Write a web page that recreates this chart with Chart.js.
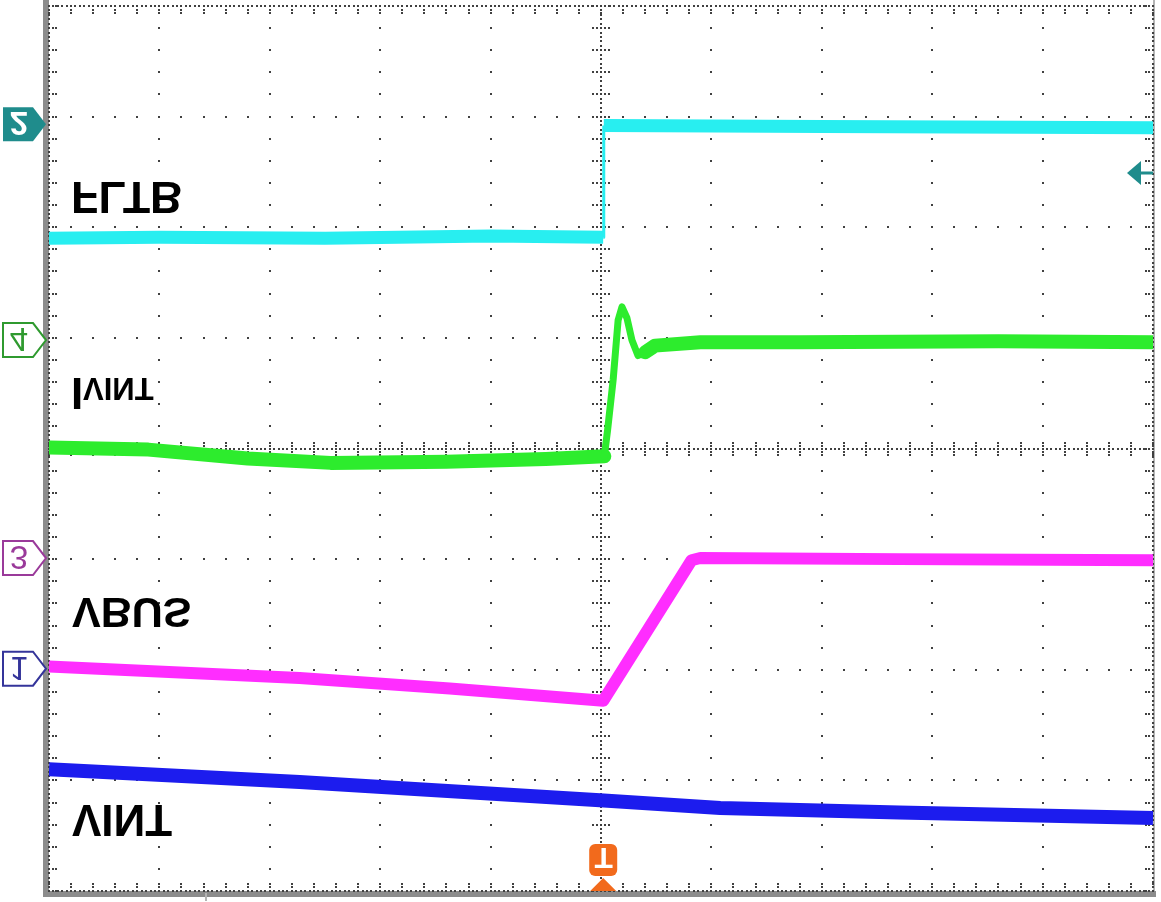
<!DOCTYPE html>
<html>
<head>
<meta charset="utf-8">
<script src="https://cdn.jsdelivr.net/npm/chart.js@4.4.1/dist/chart.umd.min.js"></script>
<style>
  html, body { margin: 0; padding: 0; background: #fff; }
  canvas { display: block; }
</style>
</head>
<body>
<canvas id="scope" width="1161" height="902"></canvas>
<script>
// values are read in screen divisions (10 x 8 graticule, 0 = centre line)
const fltbTime = [0, 1.0, 2.5, 4.0, 5.02, 5.025, 7.0, 10];
const fltbLevel = [1.90, 1.91, 1.90, 1.92, 1.91, 2.92, 2.91, 2.90];

const ivintTime = [0, 0.9, 1.8, 2.55, 3.6, 4.5, 5.03, 5.06, 5.11, 5.155, 5.19, 5.235, 5.28, 5.335, 5.4, 5.49, 5.9, 6.8, 8.6, 10];
const ivintLevel = [0.01, -0.01, -0.09, -0.13, -0.12, -0.095, -0.07, 0.17, 0.62, 1.16, 1.28, 1.18, 0.98, 0.84, 0.87, 0.93, 0.96, 0.96, 0.97, 0.96];

const vbusTime = [0, 2.27, 3.63, 5.02, 5.82, 5.9, 7.7, 10];
const vbusLevel = [-1.97, -2.075, -2.17, -2.28, -1.01, -0.99, -1.0, -1.01];

const vintTime = [0, 2.27, 4.99, 6.08, 7.7, 10];
const vintLevel = [-2.90, -3.015, -3.18, -3.25, -3.29, -3.34];

const traceNames = ["FLTB", "VBUS", "VINT"];
const channelNumbers = ["2", "4", "3", "1"];
const channelOffsets = [2.93, 0.98, -0.99, -1.99];

const toPoints = (t, v) => t.map((x, i) => ({ x: x, y: v[i] }));

// draws text mirrored top-to-bottom, baseline at yTop
function flippedText(ctx, text, x, yTop, font, color, align) {
  ctx.save();
  ctx.translate(x, yTop);
  ctx.scale(1, -1);
  ctx.font = font;
  ctx.fillStyle = color;
  ctx.textAlign = align || "left";
  ctx.textBaseline = "alphabetic";
  ctx.fillText(text, 0, 0);
  ctx.restore();
}

const graticule = {
  id: "graticule",
  beforeDatasetsDraw(chart) {
    const { ctx, chartArea: a } = chart;
    const x = chart.scales.x;
    const y = chart.scales.y;
    const px = (v) => x.getPixelForValue(v);
    const py = (v) => y.getPixelForValue(v);
    const dot = (u, w) => ctx.fillRect(Math.round(u) - 1, Math.round(w) - 1, 2, 2);

    ctx.save();
    // frame
    ctx.fillStyle = "#8c8c8c";
    ctx.fillRect(a.left - 6, 0, 6, a.bottom + 6);
    ctx.fillRect(a.left - 6, a.bottom, a.right - a.left + 9, 6);
    ctx.fillStyle = "#b4b4b4";
    ctx.fillRect(a.right, 0, 2, a.bottom);
    ctx.fillRect(205, a.bottom + 2, 2, 8);

    ctx.fillStyle = "#404040";
    for (let i = 1; i < 10; i++) {
      if (i === 5) continue;
      for (let j = 0; j <= 40; j++) dot(px(i), py(-4 + j * 0.2));
    }
    for (let i = -3; i <= 3; i++) {
      if (i === 0) continue;
      for (let j = 0; j <= 50; j++) dot(px(j * 0.2), py(i));
    }
    // centre lines, fine dots with ticks
    for (let j = 0; j <= 250; j++) dot(px(j * 0.04), py(0));
    for (let j = 0; j <= 200; j++) dot(px(5), py(-4 + j * 0.04));
    for (let j = 0; j <= 50; j++) {
      const u = px(j * 0.2);
      [-6, -3, 3, 6].forEach((d) => dot(u, py(0) + d));
    }
    for (let j = 0; j <= 40; j++) {
      const w = py(-4 + j * 0.2);
      [-8, -4, 4, 8].forEach((d) => dot(px(5) + d, w));
    }
    // edges
    for (let j = 0; j <= 250; j++) {
      dot(px(j * 0.04), a.top);
      dot(px(j * 0.04), a.bottom);
    }
    for (let j = 0; j <= 200; j++) {
      dot(a.left, py(-4 + j * 0.04));
      dot(a.right, py(-4 + j * 0.04));
    }
    for (let j = 0; j <= 50; j++) {
      const u = px(j * 0.2);
      dot(u, a.top + 4); dot(u, a.top + 7);
      dot(u, a.bottom - 4); dot(u, a.bottom - 7);
    }
    for (let j = 0; j <= 40; j++) {
      const w = py(-4 + j * 0.2);
      dot(a.left + 4, w); dot(a.left + 7, w);
      dot(a.right - 4, w); dot(a.right - 7, w);
    }
    ctx.restore();
  },
  afterDatasetsDraw(chart) {
    const { ctx, chartArea: a } = chart;
    const y = chart.scales.y;
    const x = chart.scales.x;
    ctx.save();

    // trace names
    flippedText(ctx, traceNames[0], 71, 182, "bold 45px 'Liberation Sans', Arial, sans-serif", "#000");
    flippedText(ctx, "I", 71, 378, "bold 44px 'Liberation Sans', Arial, sans-serif", "#000");
    flippedText(ctx, "VINT", 83, 378, "bold 31px 'Liberation Sans', Arial, sans-serif", "#000");
    flippedText(ctx, traceNames[1], 72, 598, "bold 43px 'Liberation Sans', Arial, sans-serif", "#000");
    flippedText(ctx, traceNames[2], 72, 805, "bold 44px 'Liberation Sans', Arial, sans-serif", "#000");

    // channel tags on the left
    const tagColors = ["#1f8c8c", "#2f9a2f", "#9a3a9a", "#34349a"];
    channelNumbers.forEach((num, i) => {
      const c = y.getPixelForValue(channelOffsets[i]);
      ctx.beginPath();
      ctx.moveTo(3, c - 17);
      ctx.lineTo(33, c - 17);
      ctx.lineTo(46, c);
      ctx.lineTo(33, c + 17);
      ctx.lineTo(3, c + 17);
      ctx.closePath();
      if (i === 0) {
        ctx.fillStyle = tagColors[i];
        ctx.fill();
        flippedText(ctx, num, 19, c - 12, "bold 33px 'Liberation Sans', Arial, sans-serif", "#fff", "center");
      } else {
        ctx.fillStyle = "#fff";
        ctx.fill();
        ctx.strokeStyle = tagColors[i];
        ctx.lineWidth = 2;
        ctx.stroke();
        flippedText(ctx, num, 19, c - 12, "33px 'Liberation Sans', Arial, sans-serif", tagColors[i], "center");
      }
    });

    // trigger level arrow on the right
    const ty = 173;
    ctx.fillStyle = "#1f8c8c";
    ctx.beginPath();
    ctx.moveTo(1127, ty);
    ctx.lineTo(1141, ty - 12);
    ctx.lineTo(1141, ty + 12);
    ctx.closePath();
    ctx.fill();
    ctx.fillRect(1140, ty - 1.5, a.right - 1140, 3);

    // trigger position marker at the bottom
    const tx = x.getPixelForValue(5.02);
    ctx.fillStyle = "#f26a1c";
    ctx.beginPath();
    ctx.roundRect(tx - 14, 844, 28, 32, 6);
    ctx.fill();
    flippedText(ctx, "T", tx + 0.5, 848, "bold 30px 'Liberation Sans', Arial, sans-serif", "#fff", "center");
    ctx.fillStyle = "#f26a1c";
    ctx.beginPath();
    ctx.moveTo(tx, 878);
    ctx.lineTo(tx + 13, a.bottom);
    ctx.lineTo(tx - 13, a.bottom);
    ctx.closePath();
    ctx.fill();
    ctx.restore();
  },
};

const thinStep = (ctx) =>
  Math.abs(ctx.p1.parsed.y - ctx.p0.parsed.y) > 0.5 && ctx.p1.parsed.x - ctx.p0.parsed.x < 0.02 ? 3 : undefined;
const thinEdge = (ctx) =>
  ctx.p0.parsed.x >= 5.02 && ctx.p1.parsed.x <= 5.45 ? 7 : undefined;

new Chart(document.getElementById("scope"), {
  type: "line",
  data: {
    datasets: [
      {
        label: "FLTB",
        data: toPoints(fltbTime, fltbLevel),
        borderColor: "rgb(40, 238, 240)",
        borderWidth: 13,
        borderCapStyle: "butt",
        segment: { borderWidth: thinStep },
      },
      {
        label: "IVINT",
        data: toPoints(ivintTime, ivintLevel),
        borderColor: "rgb(45, 236, 45)",
        borderWidth: 14,
        borderCapStyle: "round",
        segment: { borderWidth: thinEdge },
      },
      {
        label: "VBUS",
        data: toPoints(vbusTime, vbusLevel),
        borderColor: "rgb(255, 45, 255)",
        borderWidth: 12,
      },
      {
        label: "VINT",
        data: toPoints(vintTime, vintLevel),
        borderColor: "rgb(28, 28, 238)",
        borderWidth: 14,
      },
    ],
  },
  options: {
    responsive: false,
    animation: false,
    layout: { padding: { left: 49, right: 8, top: 6, bottom: 11 } },
    elements: { point: { radius: 0 }, line: { tension: 0, borderJoinStyle: "round" } },
    scales: {
      x: { type: "linear", min: 0, max: 10, display: false },
      y: { type: "linear", min: -4, max: 4, display: false },
    },
    plugins: {
      legend: { display: false },
      tooltip: { enabled: false },
    },
  },
  plugins: [graticule],
});
</script>
</body>
</html>
